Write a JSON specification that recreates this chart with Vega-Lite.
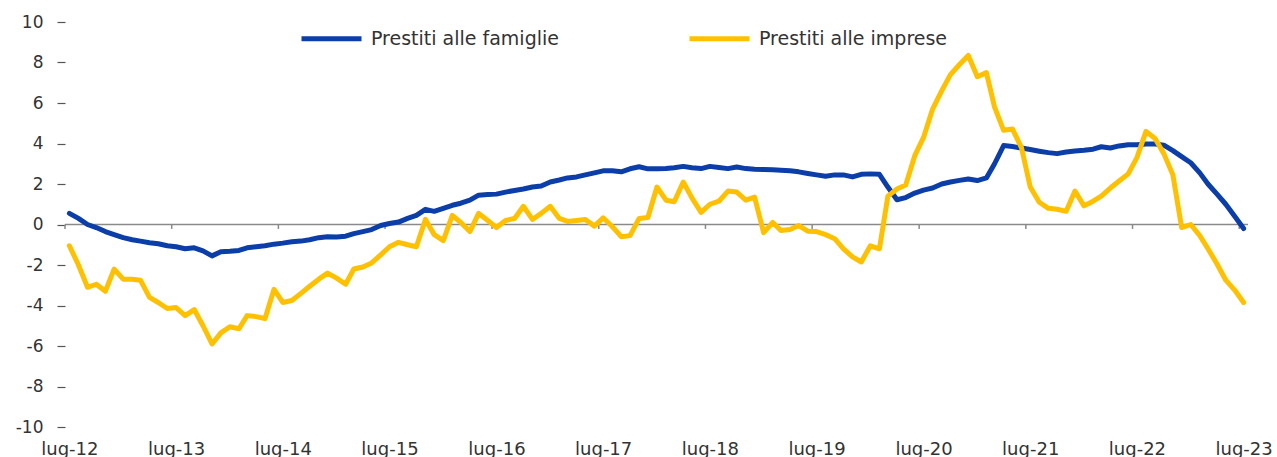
{
  "$schema": "https://vega.github.io/schema/vega-lite/v6.json",
  "width": 1183,
  "height": 405,
  "autosize": {"type": "none"},
  "padding": {"left": 65, "top": 22, "right": 29, "bottom": 30},
  "background": "white",
  "config": {"view": {"stroke": null}, "font": "DejaVu Sans"},
  "datasets": {
    "serie": [
      {"mese": "2012/07/01", "Prestiti alle famiglie": 0.55, "Prestiti alle imprese": -1.05},
      {"mese": "2012/08/01", "Prestiti alle famiglie": 0.3, "Prestiti alle imprese": -2.0},
      {"mese": "2012/09/01", "Prestiti alle famiglie": 0.0, "Prestiti alle imprese": -3.1},
      {"mese": "2012/10/01", "Prestiti alle famiglie": -0.15, "Prestiti alle imprese": -2.95},
      {"mese": "2012/11/01", "Prestiti alle famiglie": -0.35, "Prestiti alle imprese": -3.3},
      {"mese": "2012/12/01", "Prestiti alle famiglie": -0.5, "Prestiti alle imprese": -2.2},
      {"mese": "2013/01/01", "Prestiti alle famiglie": -0.65, "Prestiti alle imprese": -2.7},
      {"mese": "2013/02/01", "Prestiti alle famiglie": -0.75, "Prestiti alle imprese": -2.7},
      {"mese": "2013/03/01", "Prestiti alle famiglie": -0.82, "Prestiti alle imprese": -2.75},
      {"mese": "2013/04/01", "Prestiti alle famiglie": -0.9, "Prestiti alle imprese": -3.6},
      {"mese": "2013/05/01", "Prestiti alle famiglie": -0.95, "Prestiti alle imprese": -3.85},
      {"mese": "2013/06/01", "Prestiti alle famiglie": -1.05, "Prestiti alle imprese": -4.15},
      {"mese": "2013/07/01", "Prestiti alle famiglie": -1.1, "Prestiti alle imprese": -4.1},
      {"mese": "2013/08/01", "Prestiti alle famiglie": -1.2, "Prestiti alle imprese": -4.5},
      {"mese": "2013/09/01", "Prestiti alle famiglie": -1.15, "Prestiti alle imprese": -4.2},
      {"mese": "2013/10/01", "Prestiti alle famiglie": -1.3, "Prestiti alle imprese": -5.0},
      {"mese": "2013/11/01", "Prestiti alle famiglie": -1.55, "Prestiti alle imprese": -5.9},
      {"mese": "2013/12/01", "Prestiti alle famiglie": -1.35, "Prestiti alle imprese": -5.35},
      {"mese": "2014/01/01", "Prestiti alle famiglie": -1.32, "Prestiti alle imprese": -5.05},
      {"mese": "2014/02/01", "Prestiti alle famiglie": -1.28, "Prestiti alle imprese": -5.15},
      {"mese": "2014/03/01", "Prestiti alle famiglie": -1.15, "Prestiti alle imprese": -4.5},
      {"mese": "2014/04/01", "Prestiti alle famiglie": -1.1, "Prestiti alle imprese": -4.55},
      {"mese": "2014/05/01", "Prestiti alle famiglie": -1.05, "Prestiti alle imprese": -4.65},
      {"mese": "2014/06/01", "Prestiti alle famiglie": -0.97, "Prestiti alle imprese": -3.2},
      {"mese": "2014/07/01", "Prestiti alle famiglie": -0.92, "Prestiti alle imprese": -3.85},
      {"mese": "2014/08/01", "Prestiti alle famiglie": -0.85, "Prestiti alle imprese": -3.75},
      {"mese": "2014/09/01", "Prestiti alle famiglie": -0.82, "Prestiti alle imprese": -3.4},
      {"mese": "2014/10/01", "Prestiti alle famiglie": -0.75, "Prestiti alle imprese": -3.05},
      {"mese": "2014/11/01", "Prestiti alle famiglie": -0.65, "Prestiti alle imprese": -2.7},
      {"mese": "2014/12/01", "Prestiti alle famiglie": -0.6, "Prestiti alle imprese": -2.4},
      {"mese": "2015/01/01", "Prestiti alle famiglie": -0.62, "Prestiti alle imprese": -2.65},
      {"mese": "2015/02/01", "Prestiti alle famiglie": -0.58, "Prestiti alle imprese": -2.95},
      {"mese": "2015/03/01", "Prestiti alle famiglie": -0.45, "Prestiti alle imprese": -2.2},
      {"mese": "2015/04/01", "Prestiti alle famiglie": -0.35, "Prestiti alle imprese": -2.1},
      {"mese": "2015/05/01", "Prestiti alle famiglie": -0.25, "Prestiti alle imprese": -1.9},
      {"mese": "2015/06/01", "Prestiti alle famiglie": -0.05, "Prestiti alle imprese": -1.5},
      {"mese": "2015/07/01", "Prestiti alle famiglie": 0.05, "Prestiti alle imprese": -1.1},
      {"mese": "2015/08/01", "Prestiti alle famiglie": 0.12, "Prestiti alle imprese": -0.88},
      {"mese": "2015/09/01", "Prestiti alle famiglie": 0.3, "Prestiti alle imprese": -1.0},
      {"mese": "2015/10/01", "Prestiti alle famiglie": 0.45, "Prestiti alle imprese": -1.1},
      {"mese": "2015/11/01", "Prestiti alle famiglie": 0.75, "Prestiti alle imprese": 0.25},
      {"mese": "2015/12/01", "Prestiti alle famiglie": 0.65, "Prestiti alle imprese": -0.5},
      {"mese": "2016/01/01", "Prestiti alle famiglie": 0.8, "Prestiti alle imprese": -0.8},
      {"mese": "2016/02/01", "Prestiti alle famiglie": 0.95, "Prestiti alle imprese": 0.45},
      {"mese": "2016/03/01", "Prestiti alle famiglie": 1.05, "Prestiti alle imprese": 0.1},
      {"mese": "2016/04/01", "Prestiti alle famiglie": 1.2, "Prestiti alle imprese": -0.35},
      {"mese": "2016/05/01", "Prestiti alle famiglie": 1.45, "Prestiti alle imprese": 0.55},
      {"mese": "2016/06/01", "Prestiti alle famiglie": 1.48, "Prestiti alle imprese": 0.2},
      {"mese": "2016/07/01", "Prestiti alle famiglie": 1.5, "Prestiti alle imprese": -0.15},
      {"mese": "2016/08/01", "Prestiti alle famiglie": 1.6, "Prestiti alle imprese": 0.2},
      {"mese": "2016/09/01", "Prestiti alle famiglie": 1.68, "Prestiti alle imprese": 0.3},
      {"mese": "2016/10/01", "Prestiti alle famiglie": 1.75, "Prestiti alle imprese": 0.9},
      {"mese": "2016/11/01", "Prestiti alle famiglie": 1.85, "Prestiti alle imprese": 0.25},
      {"mese": "2016/12/01", "Prestiti alle famiglie": 1.9, "Prestiti alle imprese": 0.55},
      {"mese": "2017/01/01", "Prestiti alle famiglie": 2.1, "Prestiti alle imprese": 0.9},
      {"mese": "2017/02/01", "Prestiti alle famiglie": 2.2, "Prestiti alle imprese": 0.3},
      {"mese": "2017/03/01", "Prestiti alle famiglie": 2.3, "Prestiti alle imprese": 0.15},
      {"mese": "2017/04/01", "Prestiti alle famiglie": 2.35, "Prestiti alle imprese": 0.2},
      {"mese": "2017/05/01", "Prestiti alle famiglie": 2.45, "Prestiti alle imprese": 0.25},
      {"mese": "2017/06/01", "Prestiti alle famiglie": 2.55, "Prestiti alle imprese": -0.08},
      {"mese": "2017/07/01", "Prestiti alle famiglie": 2.65, "Prestiti alle imprese": 0.33},
      {"mese": "2017/08/01", "Prestiti alle famiglie": 2.65, "Prestiti alle imprese": -0.1},
      {"mese": "2017/09/01", "Prestiti alle famiglie": 2.6, "Prestiti alle imprese": -0.6},
      {"mese": "2017/10/01", "Prestiti alle famiglie": 2.75, "Prestiti alle imprese": -0.55},
      {"mese": "2017/11/01", "Prestiti alle famiglie": 2.85, "Prestiti alle imprese": 0.3},
      {"mese": "2017/12/01", "Prestiti alle famiglie": 2.75, "Prestiti alle imprese": 0.35},
      {"mese": "2018/01/01", "Prestiti alle famiglie": 2.75, "Prestiti alle imprese": 1.85},
      {"mese": "2018/02/01", "Prestiti alle famiglie": 2.76, "Prestiti alle imprese": 1.2},
      {"mese": "2018/03/01", "Prestiti alle famiglie": 2.8, "Prestiti alle imprese": 1.12},
      {"mese": "2018/04/01", "Prestiti alle famiglie": 2.87, "Prestiti alle imprese": 2.1},
      {"mese": "2018/05/01", "Prestiti alle famiglie": 2.8, "Prestiti alle imprese": 1.3},
      {"mese": "2018/06/01", "Prestiti alle famiglie": 2.76, "Prestiti alle imprese": 0.6},
      {"mese": "2018/07/01", "Prestiti alle famiglie": 2.87, "Prestiti alle imprese": 1.0},
      {"mese": "2018/08/01", "Prestiti alle famiglie": 2.82, "Prestiti alle imprese": 1.15},
      {"mese": "2018/09/01", "Prestiti alle famiglie": 2.76, "Prestiti alle imprese": 1.65},
      {"mese": "2018/10/01", "Prestiti alle famiglie": 2.84, "Prestiti alle imprese": 1.6},
      {"mese": "2018/11/01", "Prestiti alle famiglie": 2.76, "Prestiti alle imprese": 1.2},
      {"mese": "2018/12/01", "Prestiti alle famiglie": 2.73, "Prestiti alle imprese": 1.35},
      {"mese": "2019/01/01", "Prestiti alle famiglie": 2.72, "Prestiti alle imprese": -0.4},
      {"mese": "2019/02/01", "Prestiti alle famiglie": 2.7, "Prestiti alle imprese": 0.1},
      {"mese": "2019/03/01", "Prestiti alle famiglie": 2.68, "Prestiti alle imprese": -0.3},
      {"mese": "2019/04/01", "Prestiti alle famiglie": 2.65, "Prestiti alle imprese": -0.25},
      {"mese": "2019/05/01", "Prestiti alle famiglie": 2.6, "Prestiti alle imprese": -0.05},
      {"mese": "2019/06/01", "Prestiti alle famiglie": 2.52, "Prestiti alle imprese": -0.33},
      {"mese": "2019/07/01", "Prestiti alle famiglie": 2.45, "Prestiti alle imprese": -0.35},
      {"mese": "2019/08/01", "Prestiti alle famiglie": 2.38, "Prestiti alle imprese": -0.5},
      {"mese": "2019/09/01", "Prestiti alle famiglie": 2.45, "Prestiti alle imprese": -0.7},
      {"mese": "2019/10/01", "Prestiti alle famiglie": 2.45, "Prestiti alle imprese": -1.2},
      {"mese": "2019/11/01", "Prestiti alle famiglie": 2.35, "Prestiti alle imprese": -1.6},
      {"mese": "2019/12/01", "Prestiti alle famiglie": 2.48, "Prestiti alle imprese": -1.85},
      {"mese": "2020/01/01", "Prestiti alle famiglie": 2.5, "Prestiti alle imprese": -1.05},
      {"mese": "2020/02/01", "Prestiti alle famiglie": 2.48, "Prestiti alle imprese": -1.2},
      {"mese": "2020/03/01", "Prestiti alle famiglie": 1.85, "Prestiti alle imprese": 1.4},
      {"mese": "2020/04/01", "Prestiti alle famiglie": 1.22, "Prestiti alle imprese": 1.75},
      {"mese": "2020/05/01", "Prestiti alle famiglie": 1.33, "Prestiti alle imprese": 1.95},
      {"mese": "2020/06/01", "Prestiti alle famiglie": 1.55, "Prestiti alle imprese": 3.4},
      {"mese": "2020/07/01", "Prestiti alle famiglie": 1.7, "Prestiti alle imprese": 4.3},
      {"mese": "2020/08/01", "Prestiti alle famiglie": 1.8, "Prestiti alle imprese": 5.7},
      {"mese": "2020/09/01", "Prestiti alle famiglie": 2.0, "Prestiti alle imprese": 6.6},
      {"mese": "2020/10/01", "Prestiti alle famiglie": 2.1, "Prestiti alle imprese": 7.4},
      {"mese": "2020/11/01", "Prestiti alle famiglie": 2.18, "Prestiti alle imprese": 7.9},
      {"mese": "2020/12/01", "Prestiti alle famiglie": 2.25, "Prestiti alle imprese": 8.35},
      {"mese": "2021/01/01", "Prestiti alle famiglie": 2.17, "Prestiti alle imprese": 7.3},
      {"mese": "2021/02/01", "Prestiti alle famiglie": 2.3, "Prestiti alle imprese": 7.5},
      {"mese": "2021/03/01", "Prestiti alle famiglie": 3.0, "Prestiti alle imprese": 5.8},
      {"mese": "2021/04/01", "Prestiti alle famiglie": 3.9, "Prestiti alle imprese": 4.65},
      {"mese": "2021/05/01", "Prestiti alle famiglie": 3.85, "Prestiti alle imprese": 4.72},
      {"mese": "2021/06/01", "Prestiti alle famiglie": 3.78, "Prestiti alle imprese": 3.8},
      {"mese": "2021/07/01", "Prestiti alle famiglie": 3.7, "Prestiti alle imprese": 1.85},
      {"mese": "2021/08/01", "Prestiti alle famiglie": 3.62, "Prestiti alle imprese": 1.1},
      {"mese": "2021/09/01", "Prestiti alle famiglie": 3.55, "Prestiti alle imprese": 0.8},
      {"mese": "2021/10/01", "Prestiti alle famiglie": 3.5, "Prestiti alle imprese": 0.75},
      {"mese": "2021/11/01", "Prestiti alle famiglie": 3.58, "Prestiti alle imprese": 0.65},
      {"mese": "2021/12/01", "Prestiti alle famiglie": 3.63, "Prestiti alle imprese": 1.65},
      {"mese": "2022/01/01", "Prestiti alle famiglie": 3.67, "Prestiti alle imprese": 0.92},
      {"mese": "2022/02/01", "Prestiti alle famiglie": 3.72, "Prestiti alle imprese": 1.15},
      {"mese": "2022/03/01", "Prestiti alle famiglie": 3.84, "Prestiti alle imprese": 1.4},
      {"mese": "2022/04/01", "Prestiti alle famiglie": 3.78, "Prestiti alle imprese": 1.8},
      {"mese": "2022/05/01", "Prestiti alle famiglie": 3.88, "Prestiti alle imprese": 2.15},
      {"mese": "2022/06/01", "Prestiti alle famiglie": 3.94, "Prestiti alle imprese": 2.5},
      {"mese": "2022/07/01", "Prestiti alle famiglie": 3.94, "Prestiti alle imprese": 3.3},
      {"mese": "2022/08/01", "Prestiti alle famiglie": 3.97, "Prestiti alle imprese": 4.6},
      {"mese": "2022/09/01", "Prestiti alle famiglie": 3.97, "Prestiti alle imprese": 4.25},
      {"mese": "2022/10/01", "Prestiti alle famiglie": 3.92, "Prestiti alle imprese": 3.5},
      {"mese": "2022/11/01", "Prestiti alle famiglie": 3.65, "Prestiti alle imprese": 2.45},
      {"mese": "2022/12/01", "Prestiti alle famiglie": 3.35, "Prestiti alle imprese": -0.15},
      {"mese": "2023/01/01", "Prestiti alle famiglie": 3.05, "Prestiti alle imprese": 0.0},
      {"mese": "2023/02/01", "Prestiti alle famiglie": 2.55, "Prestiti alle imprese": -0.55},
      {"mese": "2023/03/01", "Prestiti alle famiglie": 2.0, "Prestiti alle imprese": -1.2},
      {"mese": "2023/04/01", "Prestiti alle famiglie": 1.5, "Prestiti alle imprese": -1.95},
      {"mese": "2023/05/01", "Prestiti alle famiglie": 1.0, "Prestiti alle imprese": -2.75},
      {"mese": "2023/06/01", "Prestiti alle famiglie": 0.4, "Prestiti alle imprese": -3.25},
      {"mese": "2023/07/01", "Prestiti alle famiglie": -0.2, "Prestiti alle imprese": -3.85}
    ],
    "tacche": [
      {"data": "2012/06/16"}, {"data": "2013/06/16"}, {"data": "2014/06/16"},
      {"data": "2015/06/16"}, {"data": "2016/06/16"}, {"data": "2017/06/16"},
      {"data": "2018/06/16"}, {"data": "2019/06/16"}, {"data": "2020/06/16"},
      {"data": "2021/06/16"}, {"data": "2022/06/16"}, {"data": "2023/06/16"}
    ]
  },
  "layer": [
    {
      "data": {"values": [{"zero": 0}]},
      "mark": {"type": "rule", "color": "#8a8a8a", "strokeWidth": 1.5},
      "encoding": {
        "y": {
          "field": "zero",
          "type": "quantitative",
          "scale": {"domain": [-10, 10], "nice": false},
          "axis": {
            "title": null,
            "values": [-10, -8, -6, -4, -2, 0, 2, 4, 6, 8, 10],
            "labelExpr": "datum.value < 0 ? '-' + abs(datum.value) : '' + datum.value",
            "domain": false,
            "grid": false,
            "ticks": true,
            "tickSize": 8,
            "tickColor": "#555555",
            "tickWidth": 1.2,
            "labelPadding": 14,
            "labelFontSize": 17,
            "labelColor": "#333333",
            "labelFont": "DejaVu Sans"
          }
        }
      }
    },
    {
      "data": {"name": "tacche"},
      "mark": {"type": "rule", "color": "#8a8a8a", "strokeWidth": 1.5},
      "encoding": {
        "x": {"field": "data", "type": "temporal"},
        "y": {"datum": 0},
        "y2": {"datum": -0.22}
      }
    },
    {
      "data": {"name": "serie"},
      "transform": [
        {"fold": ["Prestiti alle famiglie", "Prestiti alle imprese"], "as": ["serie", "valore"]}
      ],
      "mark": {"type": "line", "strokeWidth": 5, "strokeJoin": "round", "strokeCap": "round"},
      "encoding": {
        "x": {
          "field": "mese",
          "type": "temporal",
          "scale": {
            "domain": [
              {"year": 2012, "month": 6, "date": 16},
              {"year": 2023, "month": 7, "date": 16}
            ]
          },
          "axis": {
            "title": null,
            "values": [
              {"year": 2012, "month": 7, "date": 1},
              {"year": 2013, "month": 7, "date": 1},
              {"year": 2014, "month": 7, "date": 1},
              {"year": 2015, "month": 7, "date": 1},
              {"year": 2016, "month": 7, "date": 1},
              {"year": 2017, "month": 7, "date": 1},
              {"year": 2018, "month": 7, "date": 1},
              {"year": 2019, "month": 7, "date": 1},
              {"year": 2020, "month": 7, "date": 1},
              {"year": 2021, "month": 7, "date": 1},
              {"year": 2022, "month": 7, "date": 1},
              {"year": 2023, "month": 7, "date": 1}
            ],
            "labelExpr": "'lug-' + timeFormat(datum.value, '%y')",
            "domain": false,
            "ticks": false,
            "grid": false,
            "labelPadding": 13,
            "labelFontSize": 18,
            "labelColor": "#333333",
            "labelFont": "DejaVu Sans",
            "labelOverlap": false,
            "labelFlush": false
          }
        },
        "y": {"field": "valore", "type": "quantitative"},
        "color": {
          "field": "serie",
          "type": "nominal",
          "scale": {
            "domain": ["Prestiti alle famiglie", "Prestiti alle imprese"],
            "range": ["#0b3ea8", "#ffc000"]
          },
          "legend": {
            "title": null,
            "orient": "none",
            "legendX": 234,
            "legendY": -16,
            "direction": "horizontal",
            "symbolType": "stroke",
            "symbolSize": 3600,
            "symbolStrokeWidth": 5,
            "labelFontSize": 19,
            "labelLimit": 0,
            "labelColor": "#333333",
            "labelFont": "DejaVu Sans",
            "labelOffset": 7,
            "columnPadding": 120,
            "padding": 0
          }
        }
      }
    }
  ]
}
